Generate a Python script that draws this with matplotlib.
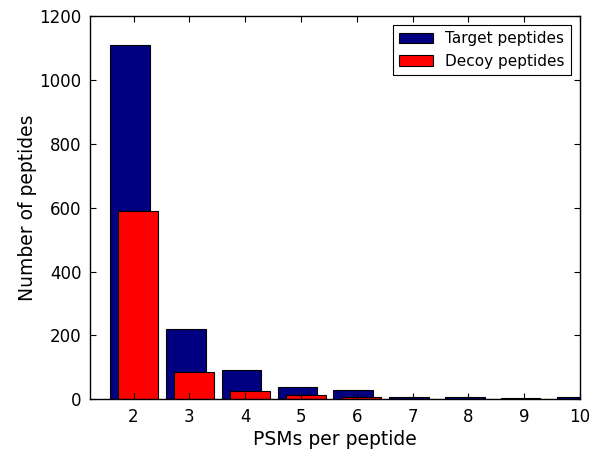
import matplotlib
matplotlib.use("Agg")
import matplotlib.pyplot as plt
import numpy as np

psms = [2, 3, 4, 5, 6, 7, 8, 9, 10]
target = [1110, 221, 92, 38, 28, 8, 8, 4, 6]
decoy = [590, 86, 27, 14, 6, 2, 1, 1, 1]
xticks = [2, 3, 4, 5, 6, 7, 8, 9, 10]
yticks = [0, 200, 400, 600, 800, 1000, 1200]

fig = plt.figure(figsize=(5.98, 4.49), dpi=100)
ax = fig.add_axes([0.1505, 0.1107, 0.8195, 0.8537])

x = np.array(psms, dtype=float)
w = 0.71
ax.bar(x - 0.42, target, width=w, align='edge', color='#000080',
       edgecolor='black', linewidth=0.8, label='Target peptides')
ax.bar(x - 0.27, decoy, width=w, align='edge', color='#ff0000',
       edgecolor='black', linewidth=0.8, label='Decoy peptides')

ax.set_xlim(1.22, 10.0)
ax.set_ylim(0, 1200)
ax.set_xticks(xticks)
ax.set_yticks(yticks)
ax.tick_params(direction='in', top=True, right=True, labelsize=12,
               length=4, pad=6)
ax.set_xlabel('PSMs per peptide', fontsize=13.5, labelpad=3)
ax.set_ylabel('Number of peptides', fontsize=13.5, labelpad=2)
for s in ax.spines.values():
    s.set_linewidth(1.0)

leg = ax.legend(loc='upper right', fontsize=11, fancybox=False,
                framealpha=1, edgecolor='black', handlelength=2.2,
                borderaxespad=0.6)
leg.get_frame().set_linewidth(0.8)

fig.savefig('out.png', dpi=100)
